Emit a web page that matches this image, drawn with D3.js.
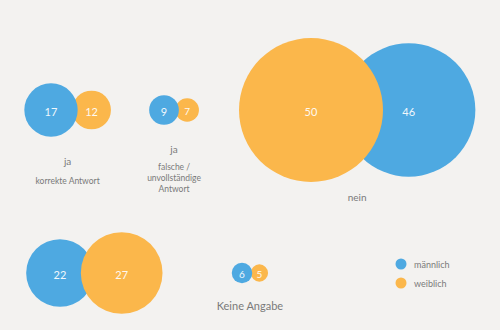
<!DOCTYPE html>
<html lang="de">
<head>
<meta charset="utf-8">
<title>Antworten nach Geschlecht</title>
<script src="https://d3js.org/d3.v7.min.js"></script>
<style>
  html, body { margin: 0; background: #f3f2f0; }
  svg { font-family: 'Lato', sans-serif; display: block; }
  .val { fill: #fff; font-size: 11px; text-anchor: middle; dominant-baseline: central; opacity: .92; }
  .lbl { fill: #7a7a7a; text-anchor: middle; }
  .leg { fill: #7a7a7a; font-size: 9px; dominant-baseline: central; }
</style>
</head>
<body>
<div id="vis"></div>
<script>
// data
var groups = ['ja_korrekt', 'ja_falsch', 'nein', 'ohne', 'keine'];
var maennlich = [17, 9, 46, 22, 6];
var weiblich = [12, 7, 50, 27, 5];
var legendLabels = ['männlich', 'weiblich'];

// layout (positions per group, left circle first)
var layout = {
  ja_korrekt: { x: 51, y: 110, order: ['m', 'w'], gap: 5.5, lines: [['ja', 10, 55], ['korrekte Antwort', 8.5, 74]] },
  ja_falsch:  { x: 164, y: 110, order: ['m', 'w'], gap: 3.5, lines: [['ja', 10, 43], ['falsche /', 8.5, 60], ['unvollständige', 8.5, 71], ['Antwort', 8.5, 82]] },
  nein:       { x: 311, y: 110, order: ['w', 'm'], gap: 41, lines: [['nein', 10, 91]] },
  ohne:       { x: 60, y: 273, order: ['m', 'w'], gap: 13, lines: [] },
  keine:      { x: 242, y: 273, order: ['m', 'w'], gap: 1.5, lines: [['Keine Angabe', 11, 37]] }
};

var colors = { m: '#4ea9e1', w: '#fbb74b' };

var width = 500, height = 330;

var svg = d3.select('#vis')
  .append('svg')
  .attr('width', width)
  .attr('height', height);

var r = d3.scalePow()
  .exponent(0.92)
  .domain([0, 50])
  .range([0, 72]);

groups.forEach(function(key, i) {
  var L = layout[key];
  var vals = { m: maennlich[i], w: weiblich[i] };
  var first = L.order[0], second = L.order[1];
  var r1 = r(vals[first]), r2 = r(vals[second]);
  var circles = [
    { s: first, v: vals[first], cx: L.x, r: r1 },
    { s: second, v: vals[second], cx: L.x + r1 + r2 - L.gap, r: r2 }
  ];
  var left = L.x - r1, right = circles[1].cx + r2;
  // bigger circle on top
  circles.sort(function(a, b) { return a.r - b.r; });

  var g = svg.append('g').attr('class', 'group');

  g.selectAll('circle')
    .data(circles)
    .enter()
    .append('circle')
    .attr('cx', function(d) { return d.cx; })
    .attr('cy', L.y)
    .attr('r', function(d) { return d.r; })
    .attr('fill', function(d) { return colors[d.s]; });

  g.selectAll('text.val')
    .data(circles)
    .enter()
    .append('text')
    .attr('class', 'val')
    .attr('x', function(d) { return d.cx; })
    .attr('y', L.y + 1)
    .style('font-size', function(d) { return d.r < 12 ? '10px' : '11px'; })
    .text(function(d) { return d.v; });

  var mid = (left + right) / 2;
  g.selectAll('text.lbl')
    .data(L.lines)
    .enter()
    .append('text')
    .attr('class', 'lbl')
    .attr('x', mid)
    .attr('y', function(d) { return L.y + d[2]; })
    .style('font-size', function(d) { return d[1] + 'px'; })
    .text(function(d) { return d[0]; });
});

// legend
var legend = svg.append('g')
  .attr('transform', 'translate(401, 264)');

var legItems = legend.selectAll('g')
  .data(legendLabels)
  .enter()
  .append('g')
  .attr('transform', function(d, i) { return 'translate(0,' + (i * 19) + ')'; });

legItems.append('circle')
  .attr('r', 5.5)
  .attr('fill', function(d, i) { return i === 0 ? colors.m : colors.w; });

legItems.append('text')
  .attr('class', 'leg')
  .attr('x', 13)
  .attr('y', 0)
  .text(function(d) { return d; });
</script>
</body>
</html>
